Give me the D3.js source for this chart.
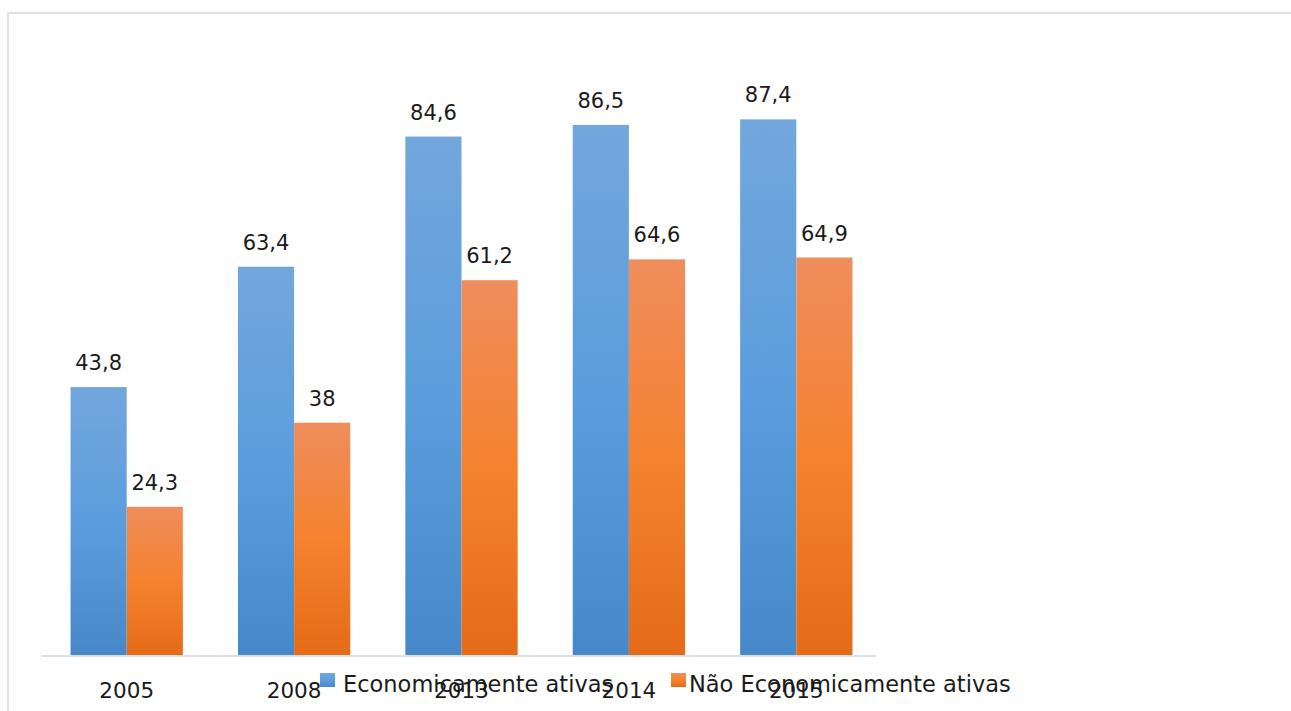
<!DOCTYPE html>
<html><head><meta charset="utf-8">
<script src="https://cdn.jsdelivr.net/npm/d3@7"></script>
<style>html,body{margin:0;padding:0;background:#fff;}svg{display:block;}</style>
</head><body>
<script>
const categories = ["2005", "2008", "2013", "2014", "2015"];
const seriesNames = ["Economicamente ativas", "Não Economicamente ativas"];
const econAtivas = [43.8, 63.4, 84.6, 86.5, 87.4];
const naoEconAtivas = [24.3, 38, 61.2, 64.6, 64.9];
const valueLabels = [["43,8","63,4","84,6","86,5","87,4"],["24,3","38","61,2","64,6","64,9"]];

const W = 1291, H = 711;
const svg = d3.select("body").append("svg").attr("width", W).attr("height", H);
const font = "DejaVu Sans, Verdana, sans-serif";

const defs = svg.append("defs");
function grad(id, stops){
  const g = defs.append("linearGradient").attr("id", id).attr("x1",0).attr("y1",0).attr("x2",0).attr("y2",1);
  stops.forEach(s => g.append("stop").attr("offset", s[0]).attr("stop-color", s[1]));
}
grad("gBlue", [[0,"#72a7dc"],[0.5,"#5c9ddd"],[1,"#4688c8"]]);
grad("gOrange", [[0,"#ef8d5d"],[0.5,"#f5822f"],[1,"#e46b18"]]);
const fills = ["url(#gBlue)", "url(#gOrange)"];

// outer border
svg.append("path").attr("d", "M8,711 L8,13 L1291,13").attr("fill","none").attr("stroke","#dee3ea").attr("stroke-width",2);

const x0 = d3.scaleBand().domain(categories).range([43, 880]).paddingInner(0.329).paddingOuter(0.1645);
const x1 = d3.scaleBand().domain([0,1]).range([0, x0.bandwidth()]);
const y = d3.scaleLinear().domain([0, 100]).range([656, 42]);

const data = [econAtivas, naoEconAtivas];
data.forEach((vals, si) => {
  const g = svg.append("g");
  g.selectAll("rect").data(vals).join("rect")
    .attr("x", (d,i) => x0(categories[i]) + x1(si))
    .attr("y", d => y(d))
    .attr("width", x1.bandwidth())
    .attr("height", d => y(0) - y(d))
    .attr("fill", fills[si]);
  g.selectAll("text").data(vals).join("text")
    .attr("x", (d,i) => x0(categories[i]) + x1(si) + x1.bandwidth()/2)
    .attr("y", d => y(d) - 17)
    .attr("text-anchor","middle")
    .attr("font-family", font).attr("font-size", 21).attr("fill","#1a1a1a")
    .text((d,i) => valueLabels[si][i]);
});

// x axis
const xAxis = d3.axisBottom(x0).tickSize(0).tickPadding(0);
const ax = svg.append("g").attr("transform","translate(0,656)").call(xAxis);
ax.select(".domain").attr("stroke","#dbe0e6").attr("stroke-width",2).attr("d", "M42,0H876");
ax.selectAll("text").attr("font-family", font).attr("font-size", 21.5).attr("fill","#1a1a1a")
  .attr("dy", null).attr("y", 42);

// legend
const legX = [320, 671];
const legTextX = [343, 689];
seriesNames.forEach((n, i) => {
  svg.append("rect").attr("x", legX[i]).attr("y", 673).attr("width", 15).attr("height", 14).attr("fill", fills[i]);
  svg.append("text").attr("x", legTextX[i]).attr("y", 692)
    .attr("font-family", font).attr("font-size", 22.5).attr("fill","#1a1a1a").text(n);
});
</script>
</body></html>
